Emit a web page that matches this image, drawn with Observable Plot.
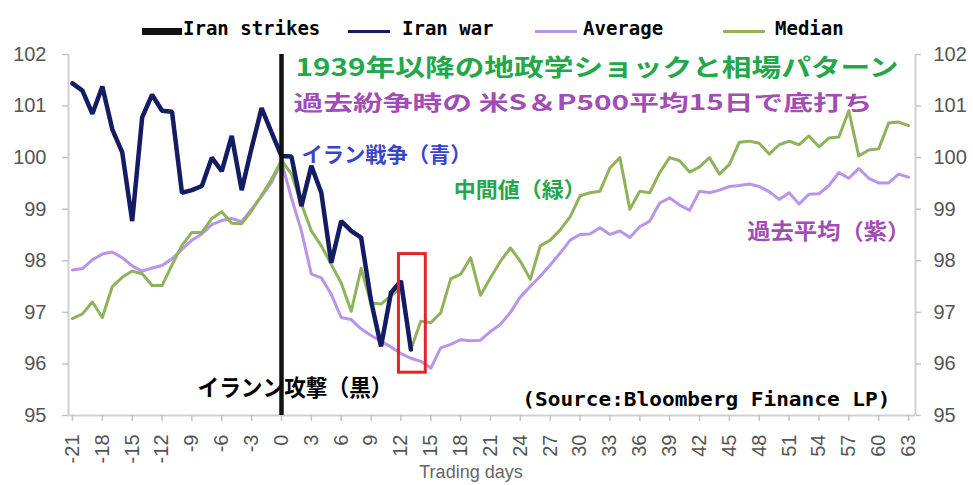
<!DOCTYPE html>
<html><head><meta charset="utf-8">
<script src="https://cdn.jsdelivr.net/npm/d3@7"></script>
<script src="https://cdn.jsdelivr.net/npm/@observablehq/plot@0.6"></script>
<style>
body{margin:0;background:#fff;}
#wrap{position:relative;width:973px;height:485px;overflow:hidden;background:#fff;}
#legend{position:absolute;left:0;top:0;width:973px;height:50px;}
.lg-text{position:absolute;top:17px;font:bold 19px "DejaVu Sans Mono",monospace;color:#000;line-height:22px;white-space:nowrap;}
.lg-sw{position:absolute;}
#xlabel{position:absolute;top:462px;left:0;width:942px;text-align:center;font:18px "Liberation Sans",Arial,sans-serif;color:#666;}
svg [aria-label="y-axis tick label"] text, svg [aria-label="x-axis tick label"] text{fill:#555;}
svg [aria-label="y-axis tick"] path, svg [aria-label="x-axis tick"] path{stroke:#c4c4c4;stroke-width:1.5;}
</style>
</head><body><div id="wrap"></div>
<script>
// ---- data ----
const startDay = -21;
const seriesNames = ["Iran strikes", "Iran war", "Average", "Median"];
const strikeDay = [0];
const xTicks = [-21,-18,-15,-12,-9,-6,-3,0,3,6,9,12,15,18,21,24,27,30,33,36,39,42,45,48,51,54,57,60,63];
const yTicks = [95,96,97,98,99,100,101,102];
const iranWarValues = [101.44,101.3,100.85,101.38,100.55,100.1,98.77,100.78,101.22,100.91,100.89,99.32,99.37,99.45,100.0,99.74,100.42,99.37,100.19,100.96,100.49,100.03,
  100.02,99.06,99.84,99.32,97.96,98.77,98.58,98.45,97.22,96.34,97.38,97.61,96.28];
const averageValues = [97.82,97.85,98.02,98.13,98.17,98.06,97.9,97.8,97.86,97.91,98.04,98.22,98.4,98.52,98.7,98.78,98.82,98.76,99.0,99.25,99.52,99.92,
  99.22,98.58,97.74,97.67,97.35,96.9,96.86,96.68,96.55,96.44,96.33,96.2,96.11,96.05,95.92,96.31,96.38,96.47,96.45,96.46,96.63,96.77,97.0,97.3,97.5,97.7,97.92,98.15,98.4,98.51,98.52,98.64,98.51,98.58,98.45,
  98.66,98.77,99.12,99.22,99.08,98.98,99.35,99.32,99.37,99.44,99.46,99.49,99.44,99.34,99.19,99.32,99.1,99.29,99.3,99.46,99.71,99.6,99.79,99.6,99.51,99.51,99.68,99.62];
const medianValues = [96.88,96.97,97.2,96.9,97.5,97.68,97.8,97.75,97.52,97.52,97.92,98.3,98.55,98.55,98.82,98.95,98.73,98.72,98.97,99.27,99.58,99.95,
  99.68,99.1,98.58,98.29,97.93,97.57,97.02,97.85,97.18,97.16,97.32,97.5,96.28,96.83,96.8,96.99,97.65,97.74,98.06,97.33,97.67,97.99,98.25,97.99,97.64,98.29,98.4,98.6,98.85,99.26,99.32,99.35,99.8,100.0,99.0,
  99.35,99.32,99.71,100.0,99.94,99.72,99.82,100.0,99.68,99.87,100.3,100.32,100.28,100.07,100.25,100.32,100.25,100.42,100.21,100.38,100.4,100.91,100.03,100.15,100.17,100.67,100.69,100.62];
const highlightDays = [11.8, 14.5];
const highlightLevels = [95.83, 98.13];
const annotationTexts = ["1939年以降の地政学ショックと相場パターン", "過去紛争時の 米S＆P500平均15日で底打ち", "イラン戦争（青）", "中間値（緑）", "過去平均（紫）", "イランン攻撃（黒）", "(Source:Bloomberg Finance LP)"];
const axisLabelX = "Trading days";

// ---- build ----
const toRows = vals => vals.map((v, i) => ({day: startDay + i, value: v}));
const colors = {"Iran strikes": "#111111", "Iran war": "#141c64", "Average": "#b894ea", "Median": "#8fb25a"};
const xDomain = [-21.4, 63.7];
const cjk = "'Noto Sans CJK JP', sans-serif";
const mono = "'DejaVu Sans Mono', monospace";
const plainFormat = d => String(d);
const annLayout = [
  {x: 1.41, y: 101.74, fill: "#23a74b", size: 24, w: 603, font: cjk},
  {x: 1.2, y: 101.05, fill: "#a24db5", size: 21, w: 579, font: cjk},
  {x: 2.0, y: 100.04, fill: "#3a45c8", size: 21, w: 170, font: cjk},
  {x: 17.3, y: 99.36, fill: "#23a74b", size: 21, w: 132, font: cjk},
  {x: 46.8, y: 98.55, fill: "#a24db5", size: 22, w: 163, font: cjk},
  {x: -8.44, y: 95.52, fill: "#000000", size: 23, w: 195, font: cjk},
  {x: 24.2, y: 95.31, fill: "#000000", size: 20, w: 368, font: mono}
];
const annMarks = annotationTexts.map((t, i) => {
  const L = annLayout[i];
  return Plot.text([{t, x: L.x, y: L.y}], {x: "x", y: "y", text: "t", fill: L.fill, fontSize: L.size,
    fontWeight: "bold", fontFamily: L.font, textAnchor: "start", lineAnchor: "middle", className: "ann" + i});
});

const chart = Plot.plot({
  width: 973, height: 485,
  marginLeft: 68, marginRight: 58, marginTop: 54, marginBottom: 70,
  style: {fontFamily: "'Liberation Sans', Arial, sans-serif", background: "white", overflow: "visible"},
  x: {domain: xDomain},
  y: {domain: [95, 102]},
  marks: [
    Plot.ruleX([xDomain[0], xDomain[1]], {stroke: "#d0d0d0", strokeWidth: 2}),
    Plot.ruleY([95], {stroke: "#d0d0d0", strokeWidth: 2}),
    Plot.axisY({anchor: "left", ticks: yTicks, tickFormat: plainFormat, tickSize: 6, tickPadding: 16, fontSize: 20, label: null}),
    Plot.axisY({anchor: "right", ticks: yTicks, tickFormat: plainFormat, tickSize: 5, tickPadding: 13, fontSize: 20, label: null}),
    Plot.axisX({ticks: xTicks, tickFormat: plainFormat, tickRotate: -90, tickSize: 6, tickPadding: 13, fontSize: 20, label: null}),
    Plot.line(toRows(averageValues), {x: "day", y: "value", stroke: colors["Average"], strokeWidth: 3}),
    Plot.line(toRows(medianValues), {x: "day", y: "value", stroke: colors["Median"], strokeWidth: 3}),
    Plot.line(toRows(iranWarValues), {x: "day", y: "value", stroke: colors["Iran war"], strokeWidth: 4.5, strokeLinejoin: "miter"}),
    Plot.ruleX(strikeDay, {stroke: colors["Iran strikes"], strokeWidth: 4.5}),
    Plot.rect([{x1: highlightDays[0], x2: highlightDays[1], y1: highlightLevels[0], y2: highlightLevels[1]}],
      {x1: "x1", x2: "x2", y1: "y1", y2: "y2", fill: "none", stroke: "#e0262a", strokeWidth: 3}),
    ...annMarks
  ]
});
annLayout.forEach((L, i) => {
  chart.querySelectorAll(".ann" + i + " text").forEach(t => {
    t.setAttribute("textLength", L.w);
    t.setAttribute("lengthAdjust", "spacingAndGlyphs");
  });
});
const wrap = document.getElementById("wrap");
wrap.appendChild(chart);

// legend
const legend = document.createElement("div");
legend.id = "legend";
const lgLayout = [
  {sx: 142, sw: 40, sh: 7, tx: 183},
  {sx: 348, sw: 42, sh: 3.5, tx: 402},
  {sx: 535, sw: 42, sh: 3, tx: 583},
  {sx: 723, sw: 42, sh: 3, tx: 775}
];
seriesNames.forEach((name, i) => {
  const L = lgLayout[i];
  const sw = document.createElement("div");
  sw.className = "lg-sw";
  sw.style.left = L.sx + "px"; sw.style.width = L.sw + "px";
  sw.style.height = L.sh + "px"; sw.style.top = (31.5 - L.sh / 2) + "px";
  sw.style.background = colors[name];
  const tx = document.createElement("div");
  tx.className = "lg-text"; tx.style.left = L.tx + "px"; tx.textContent = name;
  legend.appendChild(sw); legend.appendChild(tx);
});
wrap.appendChild(legend);
const xl = document.createElement("div");
xl.id = "xlabel"; xl.textContent = axisLabelX;
wrap.appendChild(xl);
</script>
</body></html>
